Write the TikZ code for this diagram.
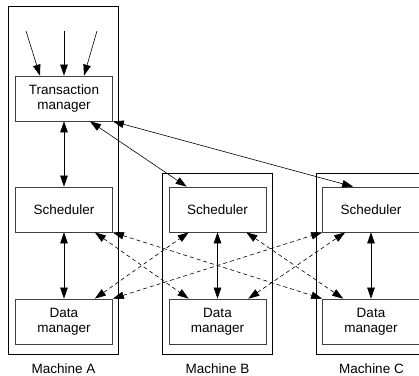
\documentclass[tikz,border=0pt]{standalone}
\usepackage{fontspec}
\setmainfont{Liberation Sans}
\usepackage{tikz}
\usetikzlibrary{arrows.meta, positioning}

\begin{document}
\begin{tikzpicture}[x=1pt, y=-1pt,
  font=\fontsize{13.5}{15.5}\selectfont,
  module/.style={draw=black!75, line width=0.7pt, minimum width=97pt, minimum height=45pt, align=center, inner sep=0pt},
  machine/.style={draw=black, line width=1.3pt, minimum width=110pt, inner sep=0pt},
  caption/.style={anchor=base, inner sep=0pt},
  link/.style={{Triangle[length=11pt,width=7.5pt]}-{Triangle[length=11pt,width=7.5pt]}, line width=0.6pt},
  remote/.style={link, dash pattern=on 4pt off 3pt},
  feed/.style={-{Triangle[length=11pt,width=7.5pt]}, line width=0.6pt}]
\useasboundingbox (0,0) rectangle (419,375);
\clip (0,0) rectangle (419,375);

% machine frames
\node[machine, minimum height=348pt] (ma) at (63.5,180.5) {};
\node[machine, minimum height=181pt] (mb) at (217.5,264) {};
\node[machine, minimum height=181pt] (mc) at (371.5,264) {};
\node[caption] (la) at ([yshift=-18pt]ma.south) {Machine A};
\node[caption] (lb) at ([yshift=-18pt]mb.south) {Machine B};
\node[caption] (lc) at ([yshift=-18pt]mc.south) {Machine C};

% Machine A
\node[module] (tm) at (64,98.5) {Transaction\\manager};
\node[module] (sa) at (64,209.5) {Scheduler};
\node[module] (dma) at (64,321.5) {Data\\manager};

% Machine B
\node[module] (sb) at (217.5,209.5) {Scheduler};
\node[module] (dmb) at (217.5,321.5) {Data\\manager};

% Machine C
\node[module] (sc) at (371,209.5) {Scheduler};
\node[module] (dmc) at (371,321.5) {Data\\manager};

% incoming transactions
\coordinate (in1) at (26,31);
\coordinate (in2) at (64,31);
\coordinate (in3) at (97,31);
\draw[feed] (in1) -- ([xshift=-24pt]tm.north);
\draw[feed] (in2) -- (tm.north);
\draw[feed] (in3) -- ([xshift=20pt]tm.north);

% local links
\draw[link] (tm.south) -- (sa.north);
\draw[link] (sa.south) -- (dma.north);
\draw[link] (sb.south) -- (dmb.north);
\draw[link] (sc.south) -- (dmc.north);

% transaction manager to remote schedulers
\draw[link] ([xshift=26pt]tm.south) -- ([xshift=18pt]sb.north west);
\draw[link] (tm.south east) -- ([xshift=31pt]sc.north west);

% scheduler to remote data managers
\draw[remote] ([xshift=-18pt]sa.south east) -- ([xshift=20pt]dmb.north west);
\draw[remote] (sa.south east) -- (dmc.north west);
\draw[remote] ([xshift=-18pt]dma.north east) -- ([xshift=20pt]sb.south west);
\draw[remote] (dma.north east) -- (sc.south west);
\draw[remote] ([xshift=-20pt]sb.south east) -- ([xshift=21pt]dmc.north west);
\draw[remote] ([xshift=-18pt]dmb.north east) -- ([xshift=23pt]sc.south west);
\end{tikzpicture}
\end{document}
